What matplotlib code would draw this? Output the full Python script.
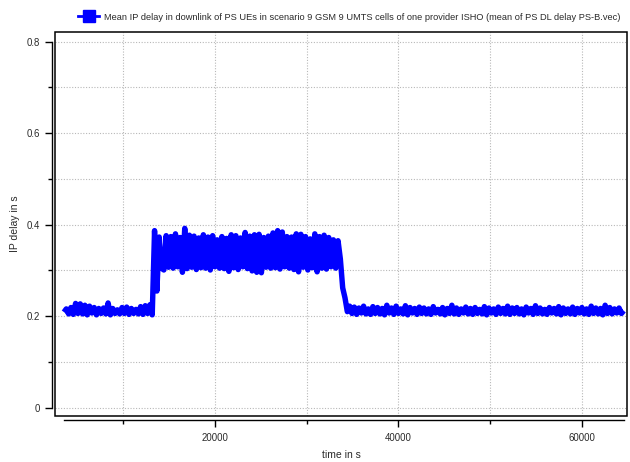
import matplotlib
matplotlib.use("Agg")
import matplotlib.pyplot as plt
from matplotlib.lines import Line2D
from matplotlib.patches import Rectangle
from matplotlib.ticker import MultipleLocator
import numpy as np

plt.rcParams['font.family'] = ['Liberation Sans', 'DejaVu Sans']

series_label = ("Mean IP delay in downlink of PS UEs in scenario 9 GSM 9 UMTS cells "
                "of one provider ISHO (mean of PS DL delay PS-B.vec)")
x_label = "time in s"
y_label = "IP delay in s"

t_start = 3580
t_step = 253

phase1 = [0.209, 0.216, 0.205, 0.219, 0.204, 0.228, 0.206, 0.227, 0.205, 0.224,
          0.203, 0.222, 0.207, 0.219, 0.203, 0.217, 0.206, 0.218, 0.205, 0.229,
          0.203, 0.217, 0.206, 0.214, 0.205, 0.219, 0.206, 0.220, 0.204, 0.217,
          0.206, 0.215, 0.205, 0.221, 0.204, 0.223, 0.206, 0.225, 0.203]
rise = [0.387, 0.255, 0.373, 0.305]
phase2 = [0.301, 0.376, 0.307, 0.374, 0.305, 0.380, 0.308, 0.372, 0.296, 0.392,
          0.304, 0.377, 0.307, 0.375, 0.302, 0.371, 0.306, 0.378, 0.305, 0.373,
          0.301, 0.376, 0.308, 0.367, 0.305, 0.374, 0.304, 0.370, 0.298, 0.378,
          0.306, 0.376, 0.302, 0.371, 0.308, 0.383, 0.304, 0.375, 0.299, 0.378,
          0.296, 0.379, 0.295, 0.372, 0.307, 0.375, 0.305, 0.382, 0.306, 0.387,
          0.303, 0.384, 0.308, 0.374, 0.305, 0.373, 0.302, 0.380, 0.297, 0.379,
          0.307, 0.374, 0.301, 0.369, 0.306, 0.380, 0.297, 0.374, 0.305, 0.377,
          0.303, 0.372, 0.308, 0.367, 0.305, 0.365]
fall = [0.325, 0.262, 0.240, 0.210, 0.222]
phase3 = [0.206, 0.220, 0.204, 0.218, 0.207, 0.222, 0.205, 0.216, 0.204, 0.221,
          0.206, 0.219, 0.205, 0.217, 0.203, 0.224, 0.207, 0.218, 0.204, 0.222,
          0.206, 0.216, 0.205, 0.223, 0.203, 0.219, 0.207, 0.217, 0.204, 0.220,
          0.206, 0.218, 0.205, 0.216, 0.204, 0.221, 0.207, 0.215, 0.205, 0.219,
          0.203, 0.217, 0.206, 0.224, 0.205, 0.218, 0.204, 0.216, 0.207, 0.220,
          0.205, 0.217, 0.204, 0.219, 0.206, 0.215, 0.205, 0.221, 0.203, 0.218,
          0.207, 0.216, 0.204, 0.220, 0.206, 0.217, 0.205, 0.222, 0.204, 0.218,
          0.206, 0.219, 0.205, 0.216, 0.203, 0.220, 0.207, 0.217, 0.204, 0.223,
          0.206, 0.218, 0.205, 0.215, 0.204, 0.219, 0.207, 0.217, 0.205, 0.221,
          0.203, 0.218, 0.206, 0.216, 0.205, 0.220, 0.204, 0.217, 0.207, 0.219,
          0.205, 0.216, 0.204, 0.222, 0.206, 0.218, 0.205, 0.217, 0.203, 0.224,
          0.206, 0.219, 0.205, 0.216, 0.207, 0.218, 0.206, 0.212]

delay = np.array(phase1 + rise + phase2 + fall + phase3)
time = t_start + t_step * np.arange(len(delay))

x_major = [20000, 40000, 60000]
y_major = [0, 0.2, 0.4, 0.6, 0.8]
y_major_labels = ["0", "0.2", "0.4", "0.6", "0.8"]

fig = plt.figure(figsize=(6.3, 4.62), dpi=100)
ax = fig.add_axes([55/630, 1-416/462, 572/630, 384/462])

ax.plot(time, delay, color='#0000ff', lw=3.9, solid_joinstyle='round',
        solid_capstyle='butt')

ax.set_xlim(2603, 64910)
ax.set_ylim(-0.018, 0.821)

ax.set_xticks(x_major)
ax.set_xticklabels([str(v) for v in x_major])
ax.xaxis.set_minor_locator(MultipleLocator(10000))
ax.set_yticks(y_major)
ax.set_yticklabels(y_major_labels)
ax.yaxis.set_minor_locator(MultipleLocator(0.1))

ax.grid(True, which='both', color='#b8b8b8', linestyle=(0, (1, 1.5)), lw=0.8)
ax.set_axisbelow(True)

txtc = '#2a2a2a'
ax.tick_params(axis='both', which='major', length=5, width=1, direction='out',
               labelsize=6.9, colors='black', labelcolor=txtc)
ax.tick_params(axis='both', which='minor', length=3, width=1, direction='out',
               colors='black')
ax.tick_params(axis='y', which='major', pad=3.5)
ax.tick_params(axis='x', which='major', pad=4)

for s in ['top', 'right']:
    ax.spines[s].set_visible(False)
ax.spines['left'].set_position(('outward', 2.5))
ax.spines['left'].set_bounds(0, 0.8)
ax.spines['bottom'].set_position(('outward', 3))
ax.spines['bottom'].set_bounds(time[0], time[-1])
for s in ['left', 'bottom']:
    ax.spines[s].set_linewidth(1.0)

frame = Rectangle((0, 0), 1, 1, transform=ax.transAxes, fill=False,
                  edgecolor='black', lw=1.1, zorder=5, clip_on=False)
ax.add_patch(frame)

ax.set_xlabel(x_label, fontsize=7.5, color=txtc)
ax.set_ylabel(y_label, fontsize=7.5, color=txtc)
ax.xaxis.set_label_coords(0.5, -0.088)
ax.yaxis.set_label_coords(-0.062, 0.5)

handle = Line2D([], [], color='#0000ff', lw=2, marker='s', markersize=8)
fig.legend([handle], [series_label], loc='center left',
           bbox_to_anchor=(78/630, 1-17/462), frameon=False, fontsize=6.7,
           borderpad=0, borderaxespad=0, handlelength=2.3, handletextpad=0.5,
           labelcolor=txtc)

fig.savefig("out.png", dpi=100)
